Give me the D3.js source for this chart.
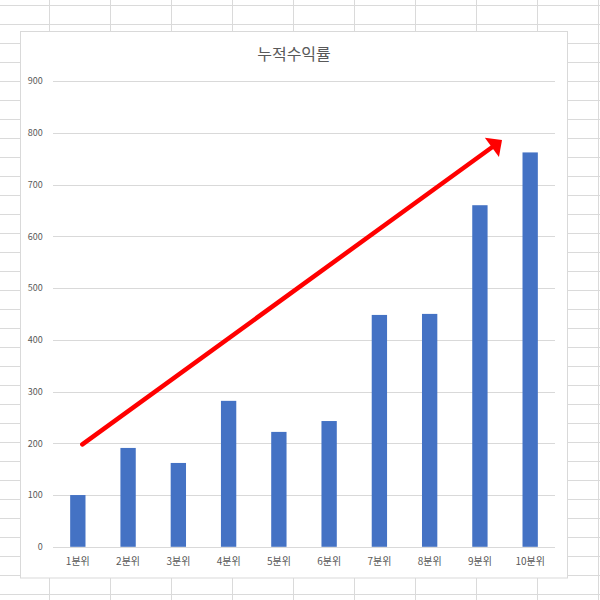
<!DOCTYPE html>
<html>
<head>
<meta charset="utf-8">
<script src="https://cdn.jsdelivr.net/npm/d3@7"></script>
<style>
html,body{margin:0;padding:0;background:#fff;}
svg{display:block;}
text{font-family:"Noto Sans CJK KR","Noto Sans",sans-serif;}
</style>
</head>
<body>
<svg id="chart" width="600" height="600"></svg>
<script>
// ---- data ----
const categories = ["1분위","2분위","3분위","4분위","5분위","6분위","7분위","8분위","9분위","10분위"];
const values = [100, 191, 162, 282, 222, 243, 448, 450, 660, 762];
const yTicks = [0,100,200,300,400,500,600,700,800,900];
const titleText = "누적수익률";
// trend arrow annotation in data terms: [category index (continuous), value]
const arrowStart = [0.09, 198];
const arrowEnd = [8.44, 786];

// ---- layout ----
const svg = d3.select("#chart");
const W = 600, H = 600;

// spreadsheet grid background
const gridCols = d3.range(49.5, W, 61);
const gridRows = d3.range(5.5, H, 19);
const bg = svg.append("g");
bg.selectAll("line.c").data(gridCols).join("line")
  .attr("x1", d=>d).attr("x2", d=>d).attr("y1",0).attr("y2",H)
  .attr("stroke","#dadada").attr("stroke-width",1);
bg.selectAll("line.r").data(gridRows).join("line")
  .attr("y1", d=>d).attr("y2", d=>d).attr("x1",0).attr("x2",W)
  .attr("stroke","#dadada").attr("stroke-width",1);

// chart area
const area = {x:20.5, y:31.5, w:547, h:546.5};
svg.append("rect").attr("x",area.x).attr("y",area.y).attr("width",area.w).attr("height",area.h)
  .attr("fill","#fff").attr("stroke","#d9d9d9").attr("stroke-width",1);

const plot = {left:52.7, right:555.3, top:81, bottom:546.8};

const x = d3.scaleBand().domain(categories).range([plot.left, plot.right])
  .paddingInner(0.695).paddingOuter(0.3475);
const xi = d3.scaleLinear().domain([-0.5, categories.length-0.5]).range([plot.left, plot.right]);
const y = d3.scaleLinear().domain([0,900]).range([plot.bottom, plot.top]);

// gridlines
const yAxis = d3.axisLeft(y).tickValues(yTicks).tickSize(-(plot.right-plot.left)).tickPadding(10).tickFormat(d3.format("d"));
const gy = svg.append("g").attr("transform",`translate(${plot.left},0)`).call(yAxis);
gy.select(".domain").remove();
gy.selectAll(".tick line").attr("stroke","#d9d9d9").attr("shape-rendering","crispEdges");
gy.selectAll(".tick text").attr("fill","#595959").attr("font-size","9px");

// bars
svg.append("g").selectAll("rect").data(categories).join("rect")
  .attr("x", d=>x(d)).attr("width", x.bandwidth())
  .attr("y", (d,i)=>y(values[i])).attr("height", (d,i)=>y(0)-y(values[i]))
  .attr("fill","#4472c4");

// x axis labels
const xAxis = d3.axisBottom(x).tickSize(0).tickPadding(11);
const gx = svg.append("g").attr("transform",`translate(0,${plot.bottom})`).call(xAxis);
gx.select(".domain").remove();
gx.selectAll(".tick text").attr("fill","#595959").attr("font-size","10px");

// title
svg.append("text").attr("x", area.x + area.w/2).attr("y", 60)
  .attr("text-anchor","middle").attr("fill","#595959").attr("font-size","16px")
  .text(titleText);

// arrow
const sx = xi(arrowStart[0]), sy = y(arrowStart[1]);
const ex = xi(arrowEnd[0]), ey = y(arrowEnd[1]);
const len = Math.hypot(ex-sx, ey-sy);
const ux = (ex-sx)/len, uy = (ey-sy)/len;
const headLen = 12.5, headHalf = 12;
const bx = ex - ux*headLen, by = ey - uy*headLen;
svg.append("line").attr("x1",sx).attr("y1",sy).attr("x2",bx+ux*1).attr("y2",by+uy*1)
  .attr("stroke","#ff0000").attr("stroke-width",4.5).attr("stroke-linecap","round");
svg.append("path")
  .attr("d", d3.line()([[ex,ey],[bx - uy*headHalf, by + ux*headHalf],[bx + uy*headHalf, by - ux*headHalf]]) + "Z")
  .attr("fill","#ff0000");
</script>
</body>
</html>
